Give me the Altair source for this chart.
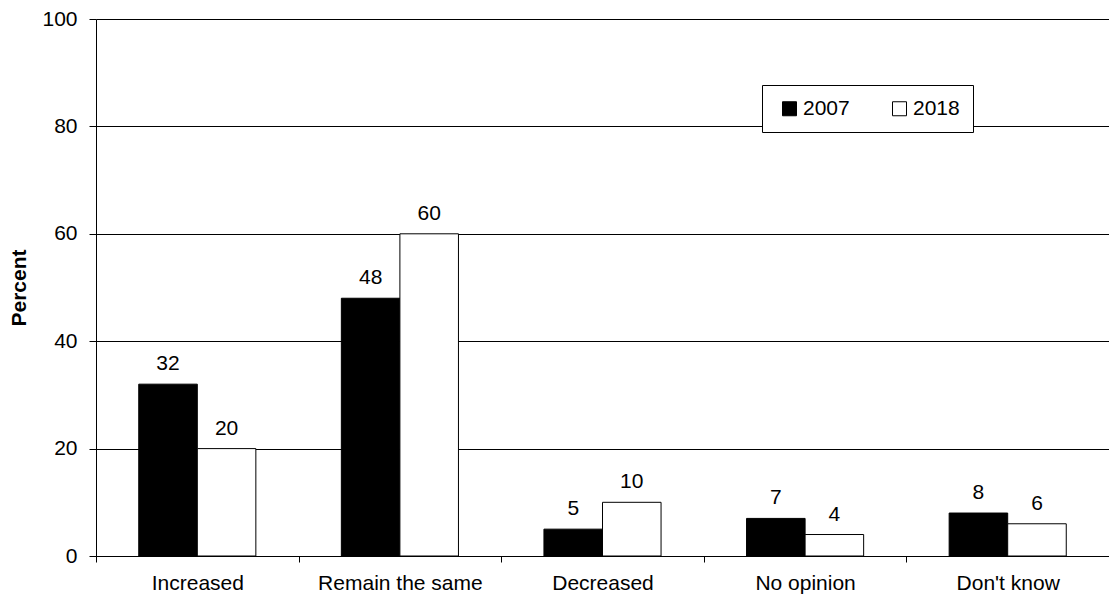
import altair as alt
import pandas as pd

categories = ["Increased", "Remain the same", "Decreased", "No opinion", "Don't know"]
years = ["2007", "2018"]
values_2007 = [32, 48, 5, 7, 8]
values_2018 = [20, 60, 10, 4, 6]
y_ticks = [0, 20, 40, 60, 80, 100]

rows = []
for c, a, b in zip(categories, values_2007, values_2018):
    rows.append({"category": c, "year": years[0], "value": a})
    rows.append({"category": c, "year": years[1], "value": b})
df = pd.DataFrame(rows)

FONT = "Liberation Sans"
FS = 21

x_enc = alt.X(
    "category:N",
    sort=categories,
    scale=alt.Scale(paddingInner=0, paddingOuter=0),
    axis=alt.Axis(
        title=None, labelAngle=0, tickBand="extent", tickSize=6,
        labelPadding=10, labelFontSize=FS, labelFont=FONT, labelColor="black",
        domainColor="black", tickColor="black", grid=False,
    ),
)
xoff = alt.XOffset("year:N", sort=years, scale=alt.Scale(paddingOuter=0.73, paddingInner=0))
y_enc = alt.Y(
    "value:Q",
    scale=alt.Scale(domain=[0, 100], nice=False),
    axis=alt.Axis(
        title="Percent", values=y_ticks, tickSize=7, labelPadding=12,
        labelFontSize=FS, labelFont=FONT, labelColor="black",
        titleFont=FONT, titleFontSize=FS, titleFontWeight="bold", titleColor="black",
        titlePadding=12, domainColor="black", tickColor="black",
        grid=True, gridColor="black", gridWidth=1,
    ),
)

bars = alt.Chart(df).mark_bar(stroke="black", strokeWidth=1).encode(
    x=x_enc,
    xOffset=xoff,
    y=y_enc,
    fill=alt.Fill(
        "year:N",
        sort=years,
        scale=alt.Scale(domain=years, range=["#000000", "#ffffff"]),
        legend=alt.Legend(
            title=None, orient="none", legendX=666, legendY=66,
            direction="horizontal", columns=2, symbolType="square",
            symbolSize=196, symbolStrokeColor="black", symbolStrokeWidth=1,
            symbolOffset=4, labelOffset=3, columnPadding=35,
            labelFont=FONT, labelFontSize=FS, labelColor="black",
            strokeColor="black", fillColor="white", padding=13,
        ),
    ),
)

labels = alt.Chart(df).mark_text(
    baseline="alphabetic", dy=-14, fontSize=FS, font=FONT, color="black"
).encode(
    x=alt.X("category:N", sort=categories),
    xOffset=alt.XOffset("year:N", sort=years),
    y="value:Q",
    text="value:Q",
)

chart = (
    alt.layer(bars, labels)
    .properties(
        width=1013, height=537,
        autosize=alt.AutoSizeParams(type="none"),
        padding={"left": 88, "top": 11, "right": 0, "bottom": 39},
        background="white",
    )
    .configure_view(stroke=None)
)

chart.save("out.html", embed_options={"renderer": "svg", "actions": False})
